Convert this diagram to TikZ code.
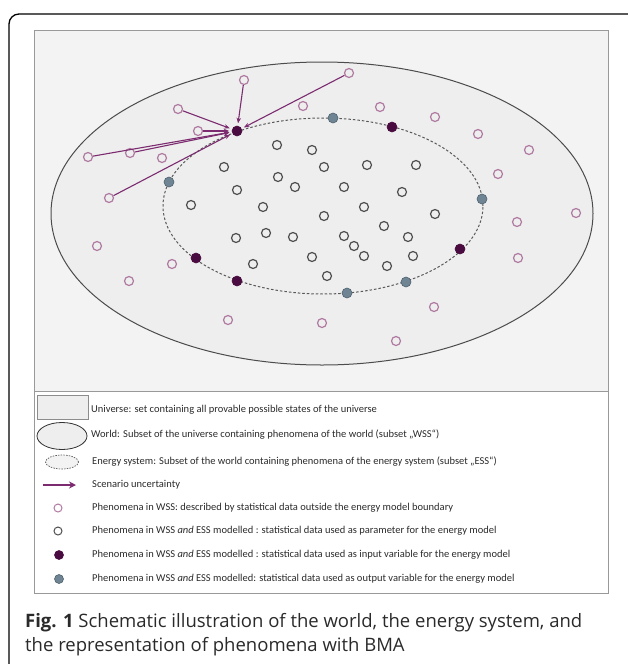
\documentclass[tikz,border=0pt]{standalone}
\usepackage{fontspec}
\setmainfont{Carlito}
\newfontfamily\capfont{Open Sans}
\usetikzlibrary{arrows.meta}
\definecolor{pinkc}{HTML}{B07AA1}
\definecolor{grayc}{HTML}{4F4F4F}
\definecolor{purpc}{HTML}{4A0C40}
\definecolor{bluec}{HTML}{6F8593}
\definecolor{bluebd}{HTML}{4F6270}
\definecolor{arrc}{HTML}{7C2B70}
\definecolor{bgout}{HTML}{F3F3F3}
\definecolor{bgin}{HTML}{EEEEEE}
\definecolor{txtc}{HTML}{2A2A2A}
\tikzset{
  pk/.style={circle, draw=pinkc, line width=1.2pt, inner sep=0pt, minimum size=9pt},
  gy/.style={circle, draw=grayc, line width=1.2pt, inner sep=0pt, minimum size=9pt},
  pu/.style={circle, draw=purpc, fill=purpc, line width=0.6pt, inner sep=0pt, minimum size=10pt},
  bl/.style={circle, draw=bluebd, fill=bluec, line width=0.6pt, inner sep=0pt, minimum size=10pt},
  arr/.style={draw=arrc, line width=1.1pt, -{Stealth[length=5.5pt,width=4.5pt]}, shorten >=2.5pt},
  legtxt/.style={anchor=west, inner sep=0pt, text=txtc, font=\fontsize{10.5}{12}\selectfont},
  captxt/.style={anchor=base west, inner sep=0pt, text=txtc, font=\capfont\fontsize{18.5}{24}\selectfont},
}
\begin{document}
\begin{tikzpicture}[x=1pt,y=-1pt]
\useasboundingbox (0,0) rectangle (627,664);
% outer frame
\draw[line width=1.3pt, rounded corners=10pt] (9,670) -- (9,14) -- (640,14);
% universe box
\fill[bgout] (34,30) rectangle (608,391);
\draw[draw=gray!80, line width=0.9pt] (34,30) rectangle (608,593);
\draw[draw=gray!80, line width=0.9pt] (34,391) -- (608,391);
% world ellipse
\draw[fill=bgin, draw=black!70, line width=1pt] (322,213.5) ellipse [x radius=271pt, y radius=151.5pt];
% energy system ellipse
\draw[draw=black!65, line width=1pt, dash pattern=on 2.5pt off 2pt] (323,206) ellipse [x radius=160pt, y radius=88pt];

% pink circles
\foreach \n/\x/\y in {p1/244/80, p2/349/73, p3/178/109, p4/198/131, p5/303/106, p6/380/107, p7/435/117, p8/478/134, p9/529/150, p10/498/174, p11/576/213, p12/517/222, p13/518/258, p14/88/157, p15/130/153, p16/162/158, p17/109/198, p18/97/246, p19/172/264, p20/129/281, p21/228/320, p22/322/323, p23/434/307, p24/396/341}
  \node[pk] (\n) at (\x,\y) {};
% gray circles
\foreach \n/\x/\y in {g1/277/145, g2/312/150, g3/224/167, g4/324/167, g5/367/165, g6/416/165, g7/278/177, g8/295/187, g9/344/187, g10/402/192, g11/237/190, g12/191/205, g13/263/207, g14/364/207, g15/324/216, g16/435/214, g17/384/226, g18/266/233, g19/236/238, g20/293/237, g21/344/236, g22/408/237, g23/354/246, g24/312/257, g25/364/256, g26/413/256, g27/253/264, g28/387/266, g29/327/276}
  \node[gy] (\n) at (\x,\y) {};
% purple dots
\node[pu] (P1) at (237,131) {};
\foreach \n/\x/\y in {P2/392/127, P3/196/258, P4/237/281, P5/460/249}
  \node[pu] (\n) at (\x,\y) {};
% blue dots
\foreach \n/\x/\y in {B1/333/118, B2/169/182, B3/482/199, B4/406/282, B5/347/293}
  \node[bl] (\n) at (\x,\y) {};

% scenario uncertainty arrows
\foreach \s in {p1,p2,p3,p4,p14,p15,p17}
  \draw[arr] (\s) -- (P1);

% legend
\draw[draw=gray!90, fill=bgin, line width=0.8pt] (37,395) rectangle (88,419);
\node[legtxt] (l1) at (91,410) {Universe: set containing all provable possible states of the universe};
\draw[draw=black!80, fill=bgin, line width=0.8pt] (62,436) ellipse [x radius=25pt, y radius=13.5pt];
\node[legtxt] (l2) at (91,435) {World: Subset of the universe containing phenomena of the world (subset „WSS“)};
\draw[draw=black!65, fill=bgout, line width=0.7pt, dash pattern=on 1.5pt off 1.2pt] (62,462) ellipse [x radius=16.5pt, y radius=7pt];
\node[legtxt] (l3) at (92,462) {Energy system: Subset of the world containing phenomena of the energy system (subset „ESS“)};
\coordinate (la) at (43,485);
\coordinate (lb) at (76,485);
\draw[draw=arrc, line width=2.2pt, -{Stealth[length=7pt,width=7pt]}] (la) -- (lb);
\node[legtxt] (l4) at (92,485) {Scenario uncertainty};
\node[pk, minimum size=8pt, line width=1pt] (lp) at (58,508) {};
\node[legtxt] (l5) at (92,508) {Phenomena in WSS: described by statistical data outside the energy model boundary};
\node[gy, minimum size=8pt, line width=1pt] (lg) at (58,531) {};
\node[legtxt] (l6) at (92,531) {Phenomena in WSS \textit{and} ESS modelled : statistical data used as parameter for the energy model};
\node[pu, minimum size=9pt] (lu) at (59,555) {};
\node[legtxt] (l7) at (92,555) {Phenomena in WSS \textit{and} ESS modelled : statistical data used as input variable for the energy model};
\node[bl, minimum size=9pt] (lbl) at (59,579) {};
\node[legtxt] (l8) at (92,579) {Phenomena in WSS \textit{and} ESS modelled: statistical data used as output variable for the energy model};

% caption
\node[captxt] (cap1) at (25,627) {\textbf{Fig. 1} Schematic illustration of the world, the energy system, and};
\node[captxt] (cap2) at (25,651) {the representation of phenomena with BMA};
\end{tikzpicture}
\end{document}
